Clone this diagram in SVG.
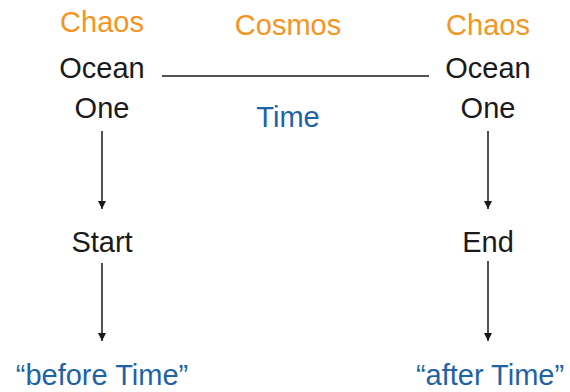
<svg xmlns="http://www.w3.org/2000/svg" width="570" height="392" viewBox="0 0 570 392">
<style>
text{font-family:"Liberation Sans",Arial,sans-serif;font-size:29px;text-anchor:middle}
.k{fill:#1a1a1a}
.o{fill:#F7941E}
.b{fill:#1E63A6}
.c{stroke:#1a1a1a;stroke-width:1.5;fill:none}
</style>
<defs>
<marker id="ah" viewBox="0 0 10 10" refX="10" refY="5" markerWidth="8" markerHeight="8" markerUnits="userSpaceOnUse" orient="auto">
<path d="M0,0 L10,5 L0,10 z" fill="#1a1a1a"/>
</marker>
</defs>
<rect width="570" height="392" fill="#fff"/>
<g id="connectors">
<line class="c" x1="162" y1="76" x2="429" y2="76"/>
<line class="c" x1="102" y1="131" x2="102" y2="209" marker-end="url(#ah)"/>
<line class="c" x1="102" y1="263" x2="102" y2="341" marker-end="url(#ah)"/>
<line class="c" x1="488" y1="131" x2="488" y2="209" marker-end="url(#ah)"/>
<line class="c" x1="488" y1="261" x2="488" y2="341" marker-end="url(#ah)"/>
</g>
<g id="chaos-left"><text class="o" x="102" y="32">Chaos</text></g>
<g id="cosmos"><text class="o" x="288" y="35">Cosmos</text></g>
<g id="chaos-right"><text class="o" x="488" y="35">Chaos</text></g>
<g id="ocean-left"><text class="k" x="102" y="78">Ocean</text></g>
<g id="ocean-right"><text class="k" x="488" y="78">Ocean</text></g>
<g id="one-left"><text class="k" x="102" y="118">One</text></g>
<g id="one-right"><text class="k" x="488" y="118">One</text></g>
<g id="time"><text class="b" x="288" y="127">Time</text></g>
<g id="start"><text class="k" x="102" y="252">Start</text></g>
<g id="end"><text class="k" x="488" y="252">End</text></g>
<g id="before-time"><text class="b" x="102" y="385">“before Time”</text></g>
<g id="after-time"><text class="b" x="490" y="385">“after Time”</text></g>
</svg>
